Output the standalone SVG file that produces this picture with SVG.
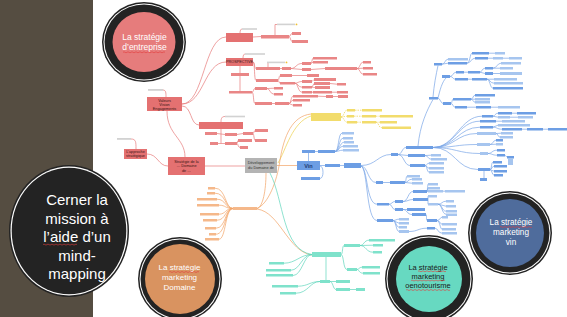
<svg xmlns="http://www.w3.org/2000/svg" width="567" height="317" viewBox="0 0 567 317">
<style>
.r{fill:#e98686}.rd{fill:#e47171}.y{fill:#f2dc6c}.b{fill:#6d9ee4}.bl{fill:#a6c5ef}.o{fill:#f5b88a}.t{fill:#7fe2cb}.lbl{fill:#d2d2d2}.gr{fill:#b4b4b4}
#connectors path{fill:none;stroke-width:.7}
.lr{stroke:#e67a7a}.ly{stroke:#ecd04c}.lyd{stroke:#ecd04c;stroke-dasharray:1.5 1}.lb{stroke:#79a5e6}.lo{stroke:#f2a466}.lt{stroke:#5fd6bb}
.tx{font-family:"Liberation Sans",Arial,sans-serif;fill:#fff;text-anchor:middle}
.nt{font-family:"Liberation Sans",Arial,sans-serif;fill:#3a1515;text-anchor:middle;font-size:3.8px}
.sq{fill:none;stroke:#e23a3a;stroke-width:.6}
.dk{fill:#232323}.wh{fill:#fff}
</style>
<rect x="0" y="0" width="567" height="317" fill="#fff"/>
<rect x="0" y="0" width="93" height="317" fill="#554d41"/>

<g id="connectors">
<!-- red -->
<path class="lr" d="M167,111 C167,135 185,138 185,157"/>
<path class="lr" d="M147,154 C158,154 158,166 168,166"/>
<path class="lr" d="M182,104 C204,104 204,37 226,37"/>
<path class="lr" d="M182,104 C204,104 204,62 226,62"/>
<path class="lr" d="M182,106 C192,106 190,125 199,125"/>
<path class="lr" d="M205,166 L245,166"/>
<path class="lr" d="M131,139 C136,139 136,142 136,149"/>
<path class="lr" d="M163,90 C166,90 166,93 166,97"/>
<path class="lr" d="M253,37 L261,36.5"/>
<path class="lr" d="M289,36.5 C290.5,36.5 290.5,33.5 292,33.5"/>
<path class="lr" d="M289,36.5 C290.5,36.5 290.5,41.5 292,41.5"/>
<path class="lr" d="M275,35 V24.5 H277"/>
<path class="lr" d="M240,33 C240,30 241,29 242,29"/>
<path class="lr" d="M243,58 C243,55 244,54 245,54"/>
<path class="lr" d="M240,66 V73 M240,76 V91"/>
<path class="lr" d="M253,62 C255,62 254,68.5 256,68.5"/>
<path class="lr" d="M253,62 C255,62 254,80.5 256,80.5"/>
<path class="lr" d="M268,67 V62.5"/>
<path class="lr" d="M280,68.5 L282,68.5"/>
<path class="lr" d="M291,68.5 C296,68.5 296,63.5 302,63.5"/>
<path class="lr" d="M291,68.5 L302,69.5"/>
<path class="lr" d="M311,63.5 C312,63.5 312,58.2 313,58.2"/>
<path class="lr" d="M311,63.5 L313,62.2"/>
<path class="lr" d="M311,69.5 L325,68.5"/>
<path class="lr" d="M357,68.5 C360,68.5 360,62.2 363,62.2"/>
<path class="lr" d="M357,68.5 L363,68.2"/>
<path class="lr" d="M357,68.5 C360,68.5 360,74.2 363,74.2"/>
<path class="lr" d="M278,80.5 C279,80.5 279,75.5 280,75.5"/>
<path class="lr" d="M278,80.5 C279,80.5 279,83.2 280,83.2"/>
<path class="lr" d="M292,75.5 L307,75.5"/>
<path class="lr" d="M295,83.2 C298,83.2 298,81.5 302,81.5"/>
<path class="lr" d="M295,83.2 C298,83.2 298,87.2 302,87.2"/>
<path class="lr" d="M295,83.2 C298,83.2 298,92.2 302,92.2"/>
<path class="lr" d="M312,81.5 L314,79.5"/>
<path class="lr" d="M312,87.2 L315,87.5 M312,87.2 L314,83.5"/>
<path class="lr" d="M312,92.2 L313,92.2"/>
<path class="lr" d="M330,83.5 L337,84.2 M332,92.2 L337,92.2 M333,96.5 L338,96.5"/>
<path class="lr" d="M252,92.2 C254,92.2 253,88.5 255,88.5"/>
<path class="lr" d="M252,92.2 C254,92.2 253,103.5 255,103.5"/>
<path class="lr" d="M267,88.5 L274,88.2 M267,88.5 C270,88.5 270,94.2 274,94.2"/>
<path class="lr" d="M272,103.5 L275,103.5"/>
<path class="lr" d="M289,103.5 C291,103.5 291,96.2 293,96.2"/>
<path class="lr" d="M289,103.5 C291,103.5 291,100.2 293,100.2"/>
<path class="lr" d="M289,103.5 L293,105.2"/>
<path class="lr" d="M318,96.2 L326,96.5"/>
<path class="lr" d="M221,129 V143.5"/>
<path class="lr" d="M217,133.5 L225,134.5 M237,134.5 L243,133.5"/>
<path class="lr" d="M253,133.5 C254,133.5 254,130.5 255,130.5 M253,133.5 C254,133.5 254,140.5 255,140.5"/>
<path class="lr" d="M218,143.5 L225,143.5 M237,143.5 C237.5,143.5 237.5,140.5 238,140.5 M237,143.5 C238,143.5 238,147.5 240,147.5"/>
<path class="lr" d="M221,122 C221,118 222,116.5 225,116.5"/>
<!-- yellow -->
<path class="ly" d="M278,163 C286,150 292,122 311,116"/>
<path class="lyd" d="M341,117 C344,117 344,110.2 347,110.2"/>
<path class="lyd" d="M341,117 L347,116.2"/>
<path class="lyd" d="M341,117 C344,117 344,122.2 347,122.2"/>
<path class="lyd" d="M355,110.2 L362,110.2 M354,116.2 L362,116.2 M376,116.2 L380,116.2 M357,122.2 L362,122.2 M376,122.2 L380,122.2"/>
<path class="lyd" d="M376,122.2 C379,122.2 378,127.7 382,127.7"/>
<!-- orange -->
<path class="lo" d="M311,114 C292,116 284,136 280,160 C277,182 268,204 257,208.5"/>
<path class="lo" d="M266,173 C266,190 263,207 257,208.5"/>
<path class="lo" d="M277,165.5 L297,165.5"/>
<path class="lo" d="M257,209 C280,212 288,252 312,255"/>
<path class="lo" d="M233,208.5 C225,208.5 226,188.2 215,188.2"/>
<path class="lo" d="M233,208.5 C225,208.5 226,193.2 215,193.2"/>
<path class="lo" d="M233,208.5 C225,208.5 226,199.2 217,199.2"/>
<path class="lo" d="M233,208.5 C225,208.5 226,205.2 219,205.2"/>
<path class="lo" d="M233,208.5 C225,208.5 226,214.2 219,214.2"/>
<path class="lo" d="M233,208.5 C225,208.5 226,220.2 217,220.2"/>
<path class="lo" d="M233,208.5 C225,208.5 226,228.2 216,228.2"/>
<path class="lo" d="M233,208.5 C225,208.5 226,234.2 216,234.2"/>
<path class="lo" d="M233,208.5 C225,208.5 226,239.2 219,239.2"/>
<!-- teal -->
<path class="lt" d="M270,173 C284,200 282,250 312,254.5"/>
<path class="lt" d="M341,254.5 C343,254.5 342,245.5 344,245.5"/>
<path class="lt" d="M341,254.5 C344,254.5 343,269.5 347,269.5"/>
<path class="lt" d="M360,245.5 C364,245.5 364,240.2 369,240.2 M360,245.5 L373,245.2 M360,245.5 C366,245.5 366,252.2 373,252.2"/>
<path class="lt" d="M357,269.5 C359,269.5 359,267.2 362,267.2 M357,269.5 C359,269.5 359,273.2 363,273.2"/>
<path class="lt" d="M312,254.5 C300,254.5 296,263.2 284,263.2"/>
<path class="lt" d="M312,254.5 C302,254.5 300,270.2 291,270.2"/>
<path class="lt" d="M312,254.5 C304,254.5 302,275.5 293,275.5"/>
<path class="lt" d="M326,257 V280"/>
<path class="lt" d="M320,281.5 C310,281.5 308,286.2 298,286.2 M320,281.5 C310,281.5 308,293.2 296,293.2"/>
<path class="lt" d="M330,281.5 L336,281.5 M330,281.5 C333,281.5 333,289.5 336,289.5 M350,289.5 L356,289.5"/>
<!-- blue -->
<path class="lb" d="M308.5,161 V153"/>
<path class="lb" d="M315,151.5 L318,151.5"/>
<path class="lb" d="M335,151.5 C339,151.5 338,133.2 342,133.2 M335,151.5 C339,151.5 339,138.2 343,138.2 M335,151.5 C339,151.5 340,142.2 344,142.2 M335,151.5 C339,151.5 339,146.2 343,146.2 M335,151.5 C339,151.5 339,150.2 343,150.2"/>
<path class="lb" d="M320,166 C324,166 324,178.5 320,178.5"/>
<path class="lb" d="M320,165.5 L325,165.5 M340,165.5 L344,165.5"/>
<path class="lb" d="M361,165.5 C376,165.5 378,154.5 391,154.5"/>
<path class="lb" d="M398,154.5 C402,154.5 402,147.5 406,147.5 M398,154.5 L408,155.5 M398,154.5 C404,154.5 404,165.5 410,165.5"/>
<path class="lb" d="M425,155.5 L431,155.2 M425,155.5 C428,155.5 428,159.2 431,159.2"/>
<path class="lb" d="M425,165.5 C427,165.5 427,163.2 429,163.2 M425,165.5 C427,165.5 427,168.2 429,168.2 M425,165.5 C427,165.5 427,172.2 429,172.2"/>
<path class="lb" d="M361,166 C368,166 368,182.5 376,182.5 M383,182.5 L390,182.5"/>
<path class="lb" d="M405,182.5 C406,182.5 406,176.2 407,176.2 M405,182.5 C408,182.5 408,179.2 412,179.2 M405,182.5 L412,183.2"/>
<path class="lb" d="M361,166 C368,168 366,204.2 377,204.2 M361,166 C368,168 366,220.5 377,220.5"/>
<path class="lb" d="M389,204.2 C392,204.2 392,201.5 395,201.5 M389,204.2 C392,204.2 392,209.5 395,209.5"/>
<path class="lb" d="M403,201.5 C408,201.5 408,191.5 413,191.5 M403,201.5 C408,201.5 408,199.5 413,199.5"/>
<path class="lb" d="M427,191.5 C427.5,191.5 427.5,184.2 428,184.2 M427,191.5 L428,188.2 M427,191.5 L428,191.2 M443,191.2 L445,191.2"/>
<path class="lb" d="M428,199.5 L428,196.2 M428,199.5 L428,204.2"/>
<path class="lb" d="M438,204.2 C442,204.2 442,201.2 446,201.2 M438,204.2 L446,206.2 M438,204.2 C442,204.2 442,211.2 446,211.2 M438,204.2 C442,204.2 442,214.2 446,214.2"/>
<path class="lb" d="M403,209.5 L407,209.5 M403,209.5 C407,209.5 407,214.5 412,214.5 M426,214.5 C427,214.5 426,220.5 427,220.5"/>
<path class="lb" d="M437,220.5 C440,220.5 440,217.2 442,217.2 M437,220.5 C440,220.5 440,224.2 442,224.2 M437,220.5 C440,220.5 440,229.2 442,229.2"/>
<path class="lb" d="M393,220.5 C396,220.5 396,219.2 399,219.2 M393,220.5 L399,223.2 M393,220.5 C396,220.5 396,227.2 399,227.2 M393,220.5 C396,220.5 396,231.5 399,231.5"/>
<path class="lb" d="M409,231.5 C418,231.5 418,228.2 427,228.2 M435,228.2 C438,228.2 438,233.2 442,233.2"/>
<path class="lb" d="M418,146 C420,125 427,110 433,99.5"/>
<path class="lb" d="M433,97 C434,85 436,75 438,65.5"/>
<path class="lb" d="M438,98 C440,90 442,82 446,78"/>
<path class="lb" d="M438,98.2 C440,98.2 441,103.5 443,103.5"/>
<path class="lb" d="M442,64.2 C445,64.2 445,59.2 448,59.2 M442,64.2 L448,63.2"/>
<path class="lb" d="M467,63.2 C470,63.2 470,53.2 472,53.2 M467,63.2 C471,63.2 471,58.2 475,58.2"/>
<path class="lb" d="M489,53.2 L495,53.2 M488,58.2 L493,58.2 M503,58.2 L509,58.2"/>
<path class="lb" d="M450,76.5 C453,76.5 453,72.2 456,72.2 M450,76.5 C453,76.5 453,79.2 455,79.2"/>
<path class="lb" d="M464,72.2 L468,72.2 M480,72.2 C482,72.2 482,68.2 485,68.2 M480,72.2 L485,73.5"/>
<path class="lb" d="M493,68.2 C497,68.2 497,63.2 501,63.2 M493,68.2 L500,68.2 M493,73.5 L500,73.5"/>
<path class="lb" d="M468,79.2 L472,79.2 M487,79.2 L494,79.2 M487,79.2 C490,79.2 490,83.2 494,83.2 M487,79.2 C490,79.2 490,88.2 493,88.2"/>
<path class="lb" d="M451,103.5 C452,103.5 452,99.2 453,99.2 M451,103.5 C453,103.5 453,107.2 455,107.2"/>
<path class="lb" d="M471,99.2 C473,99.2 473,95.2 475,95.2 M471,99.2 L475,99.2 M471,99.2 C473,99.2 473,102.2 475,102.2"/>
<path class="lb" d="M467,107.2 L476,107.2 M491,107.2 L498,107.2"/>
<path class="lb" d="M433,147.5 C455,147.5 460,116.2 482,116.2 M433,147.5 C455,147.5 458,121.2 480,121.2 M433,147.5 C455,147.5 458,127.2 480,127.2 M433,147.5 C455,147.5 456,133.5 477,133.5 M433,147.5 C455,147.5 456,144.5 477,144.5 M433,147.5 C455,147.5 458,153.5 480,153.5 M433,147.5 C455,147.5 456,169.5 478,169.5"/>
<path class="lb" d="M493,116.2 C495,116.2 495,113.2 498,113.2 M493,116.2 L498,117.2 M512,113.2 L517,113.2 M510,117.2 L518,117.2"/>
<path class="lb" d="M496,121.2 L502,121.2"/>
<path class="lb" d="M493,127.2 L498,125.2 M493,127.2 C497,127.2 497,129.2 502,129.2 M522,129.2 L527,129.2 M543,129.2 L548,129.2"/>
<path class="lb" d="M496,133.5 L501,133.2 M496,133.5 C498,133.5 498,137.2 500,137.2"/>
<path class="lb" d="M490,144.5 C493,144.5 493,140.2 496,140.2 M490,144.5 L496,144.2"/>
<path class="lb" d="M488,153.5 C492,153.5 492,150.2 497,150.2 M488,153.5 C492,153.5 492,155.2 497,155.2 M505,155.2 L507,157.2"/>
<path class="lb" d="M490,169.5 C492,169.5 491,162.2 493,162.2 M490,169.5 C492,169.5 492,166.2 494,166.2 M490,169.5 L494,171.2 M490,169.5 C492,169.5 492,175.2 494,175.2 M484,171 V178"/>
</g>

<!-- gray center -->
<g id="center"><rect class="gr" x="245" y="158" width="32" height="15"/>
<text class="nt" x="261" y="164" style="fill:#333">Développement</text>
<text class="nt" x="261" y="168.5" style="fill:#333">du Domaine de</text></g>

<!-- red main nodes -->
<g id="r_main"><rect class="rd" x="168" y="157" width="37" height="18"/>
<text class="nt" x="186.5" y="162.5">Stratégie de la</text>
<text class="nt" x="186.5" y="167">… Domaine</text>
<text class="nt" x="186.5" y="171.5">de …</text></g>
<g id="r_appr"><rect class="rd" x="124" y="149" width="23" height="10"/>
<text class="nt" x="135.5" y="153.3">L’approche</text>
<text class="nt" x="135.5" y="157.3">stratégique</text></g>
<g id="r_val"><rect class="rd" x="147" y="97" width="35" height="14"/>
<text class="nt" x="164.5" y="101.5">Valeurs</text>
<text class="nt" x="164.5" y="105.5">Vision</text>
<text class="nt" x="164.5" y="109.5">Engagements</text></g>
<g id="r_a"><rect class="rd" x="226" y="33" width="27" height="9"/></g>
<g id="r_p"><rect class="rd" x="226" y="58" width="27" height="8"/>
<text class="nt" x="239.5" y="63.3">PROSPECTIVE</text></g>
<g id="r_n2"><rect class="rd" x="199" y="122" width="44" height="7"/></g>
<g id="labels">
<rect class="lbl" x="117" y="138" width="14" height="1.8"/>
<rect class="lbl" x="148" y="89" width="15" height="1.8"/>
<rect class="lbl" x="242" y="28.2" width="15" height="1.6"/>
<rect class="lbl" x="245" y="53.2" width="20" height="1.6"/>
<rect class="lbl" x="277" y="23.6" width="18" height="1.6"/><circle cx="296.5" cy="24.4" r="0.9" fill="#f0c030"/>
<rect class="lbl" x="267" y="61.6" width="18" height="1.6"/><circle cx="286.5" cy="62.4" r="0.9" fill="#f0c030"/>
<rect class="lbl" x="225" y="115.7" width="20" height="1.6"/>
</g>
<g id="red_leaves">
<g id="rl1"><rect class="r" x="261" y="35" width="28" height="3.5"/></g>
<g id="rl2"><rect class="r" x="292" y="32" width="9" height="3"/></g>
<g id="rl3"><rect class="r" x="292" y="40" width="16" height="3"/></g>
<g id="rl4"><rect class="r" x="231" y="73" width="18" height="3"/></g>
<g id="rl5"><rect class="r" x="229" y="91" width="23" height="2.5"/></g>
<g id="rl6"><rect class="r" x="256" y="67" width="24" height="3"/></g>
<g id="rl7"><rect class="r" x="256" y="79" width="22" height="3"/></g>
<g id="rl8"><rect class="r" x="282" y="67" width="9" height="3"/></g>
<g id="rl9"><rect class="r" x="302" y="62" width="9" height="3"/></g>
<g id="rl10"><rect class="r" x="302" y="68" width="9" height="3"/></g>
<g id="rl11"><rect class="r" x="313" y="57" width="24" height="2.5"/></g>
<g id="rl12"><rect class="r" x="313" y="61" width="15" height="2.5"/></g>
<g id="rl13"><rect class="r" x="325" y="67" width="32" height="3"/></g>
<g id="rl14"><rect class="r" x="363" y="61" width="8" height="2.5"/></g>
<g id="rl15"><rect class="r" x="363" y="67" width="10" height="2.5"/></g>
<g id="rl16"><rect class="r" x="363" y="73" width="14" height="2.5"/></g>
<g id="rl17"><rect class="r" x="280" y="74" width="12" height="3"/></g>
<g id="rl18"><rect class="r" x="280" y="82" width="15" height="2.5"/></g>
<g id="rl19"><rect class="r" x="307" y="74" width="12" height="3"/></g>
<g id="rl20"><rect class="r" x="302" y="80" width="10" height="3"/></g>
<g id="rl21"><rect class="r" x="302" y="86" width="10" height="2.5"/></g>
<g id="rl22"><rect class="r" x="302" y="91" width="10" height="2.5"/></g>
<g id="rl23"><rect class="r" x="314" y="78" width="22" height="3"/></g>
<g id="rl24"><rect class="r" x="314" y="82" width="16" height="3"/></g>
<g id="rl25"><rect class="r" x="315" y="86" width="15" height="3"/></g>
<g id="rl26"><rect class="r" x="313" y="91" width="19" height="2.5"/></g>
<g id="rl27"><rect class="r" x="326" y="95" width="7" height="3"/></g>
<g id="rl28"><rect class="r" x="337" y="83" width="9" height="2.5"/></g>
<g id="rl29"><rect class="r" x="337" y="91" width="11" height="2.5"/></g>
<g id="rl30"><rect class="r" x="338" y="95" width="10" height="3"/></g>
<g id="rl31"><rect class="r" x="255" y="87" width="12" height="3"/></g>
<g id="rl32"><rect class="r" x="274" y="87" width="9" height="2.5"/></g>
<g id="rl33"><rect class="r" x="274" y="93" width="9" height="2.5"/></g>
<g id="rl34"><rect class="r" x="255" y="102" width="17" height="3"/></g>
<g id="rl35"><rect class="r" x="275" y="102" width="14" height="3"/></g>
<g id="rl36"><rect class="r" x="293" y="95" width="25" height="2.5"/></g>
<g id="rl37"><rect class="r" x="293" y="99" width="17" height="2.5"/></g>
<g id="rl38"><rect class="r" x="293" y="104" width="9" height="2.5"/></g>
<g id="rl39"><rect class="r" x="205" y="132" width="12" height="3"/></g>
<g id="rl40"><rect class="r" x="225" y="133" width="12" height="3"/></g>
<g id="rl41"><rect class="r" x="243" y="132" width="10" height="3"/></g>
<g id="rl42"><rect class="r" x="255" y="129" width="13" height="3"/></g>
<g id="rl43"><rect class="r" x="255" y="139" width="12" height="3"/></g>
<g id="rl44"><rect class="r" x="238" y="139" width="14" height="3"/></g>
<g id="rl45"><rect class="r" x="210" y="142" width="8" height="3"/></g>
<g id="rl46"><rect class="r" x="225" y="142" width="12" height="3"/></g>
<g id="rl47"><rect class="r" x="240" y="146" width="8" height="3"/></g>
</g>

<!-- yellow -->
<g id="y_main"><rect class="y" x="311" y="113" width="30" height="8"/></g>
<g id="yellow_leaves">
<g id="yl1"><rect class="y" x="347" y="109" width="8" height="2.5"/></g>
<g id="yl2"><rect class="y" x="362" y="109" width="20" height="2.5"/></g>
<g id="yl3"><rect class="y" x="347" y="115" width="7" height="2.5"/></g>
<g id="yl4"><rect class="y" x="362" y="115" width="14" height="2.5"/></g>
<g id="yl5"><rect class="y" x="380" y="115" width="33" height="2.5"/></g>
<g id="yl6"><rect class="y" x="347" y="121" width="10" height="2.5"/></g>
<g id="yl7"><rect class="y" x="362" y="121" width="14" height="2.5"/></g>
<g id="yl8"><rect class="y" x="380" y="121" width="17" height="2.5"/></g>
<g id="yl9"><rect class="y" x="382" y="126.5" width="29" height="2.5"/></g>
</g>

<!-- orange -->
<g id="o_main"><rect class="o" x="233" y="207" width="24" height="3"/></g>
<g id="orange_leaves">
<g id="ol1"><rect class="o" x="208" y="187" width="7" height="2.5"/></g>
<g id="ol2"><rect class="o" x="207" y="192" width="8" height="2.5"/></g>
<g id="ol3"><rect class="o" x="197" y="198" width="20" height="2.5"/></g>
<g id="ol4"><rect class="o" x="197" y="204" width="22" height="2.5"/></g>
<g id="ol5"><rect class="o" x="200" y="213" width="19" height="2.5"/></g>
<g id="ol6"><rect class="o" x="203" y="219" width="14" height="2.5"/></g>
<g id="ol7"><rect class="o" x="205" y="227" width="11" height="2.5"/></g>
<g id="ol8"><rect class="o" x="209" y="233" width="7" height="2.5"/></g>
<g id="ol9"><rect class="o" x="205" y="238" width="14" height="2.5"/></g>
</g>

<!-- teal -->
<g id="t_main"><rect class="t" x="312" y="252" width="29" height="5"/></g>
<g id="teal_nodes">
<g id="tl1"><rect class="t" x="344" y="244" width="16" height="3"/></g>
<g id="tl2"><rect class="t" x="369" y="239" width="26" height="2.5"/></g>
<g id="tl3"><rect class="t" x="373" y="244" width="10" height="2.5"/></g>
<g id="tl4"><rect class="t" x="373" y="251" width="9" height="2.5"/></g>
<g id="tl5"><rect class="t" x="347" y="268" width="10" height="3"/></g>
<g id="tl6"><rect class="t" x="362" y="266" width="18" height="2.5"/></g>
<g id="tl7"><rect class="t" x="363" y="272" width="17" height="2.5"/></g>
<g id="tl8"><rect class="t" x="269" y="262" width="15" height="2.5"/></g>
<g id="tl9"><rect class="t" x="266" y="269" width="25" height="2.5"/></g>
<g id="tl10"><rect class="t" x="266" y="274" width="27" height="2.5"/></g>
<g id="tl11"><rect class="t" x="320" y="280" width="10" height="3"/></g>
<g id="tl12"><rect class="t" x="272" y="285" width="26" height="2.5"/></g>
<g id="tl13"><rect class="t" x="280" y="292" width="16" height="2.5"/></g>
<g id="tl14"><rect class="t" x="336" y="280" width="14" height="3"/></g>
<g id="tl15"><rect class="t" x="336" y="288" width="14" height="3"/></g>
<g id="tl16"><rect class="t" x="356" y="288" width="9" height="3"/></g>
</g>

<!-- blue -->
<g id="vin"><rect class="b" x="297" y="161" width="23" height="9"/>
<text x="308.5" y="167.6" style="font-family:'Liberation Sans',Arial,sans-serif;font-size:5.5px;fill:#1d3b73;text-anchor:middle;font-weight:bold">Vin</text></g>
<g id="blue_nodes">
<g id="bn1"><rect class="b" x="302" y="150" width="13" height="3"/></g>
<g id="bn2"><rect class="b" x="318" y="150" width="17" height="3"/></g>
<g id="bn3"><rect class="bl" x="342" y="132" width="12" height="2.5"/></g>
<g id="bn4"><rect class="bl" x="343" y="137" width="10" height="2.5"/></g>
<g id="bn5"><rect class="bl" x="344" y="141" width="10" height="2.5"/></g>
<g id="bn6"><rect class="bl" x="343" y="145" width="15" height="2.5"/></g>
<g id="bn7"><rect class="bl" x="343" y="149" width="16" height="2.5"/></g>
<g id="bn8"><rect class="b" x="301" y="177" width="19" height="3"/></g>
<g id="bn9"><rect class="b" x="325" y="164" width="15" height="3"/></g>
<g id="bn10"><rect class="b" x="344" y="163" width="17" height="5"/></g>
<g id="bn11"><rect class="b" x="391" y="153" width="7" height="3"/></g>
<g id="bn12"><rect class="b" x="406" y="146" width="27" height="3"/></g>
<g id="bn13"><rect class="b" x="408" y="154" width="17" height="3"/></g>
<g id="bn14"><rect class="b" x="410" y="164" width="15" height="3"/></g>
<g id="bn15"><rect class="bl" x="431" y="154" width="10" height="2.5"/></g>
<g id="bn16"><rect class="bl" x="431" y="158" width="16" height="2.5"/></g>
<g id="bn17"><rect class="bl" x="429" y="162" width="15" height="2.5"/></g>
<g id="bn18"><rect class="bl" x="429" y="167" width="15" height="2.5"/></g>
<g id="bn19"><rect class="bl" x="429" y="171" width="15" height="2.5"/></g>
<g id="bn20"><rect class="b" x="376" y="181" width="7" height="3"/></g>
<g id="bn21"><rect class="b" x="390" y="181" width="15" height="3"/></g>
<g id="bn22"><rect class="bl" x="407" y="175" width="13" height="2.5"/></g>
<g id="bn23"><rect class="bl" x="412" y="178" width="10" height="2.5"/></g>
<g id="bn24"><rect class="bl" x="412" y="182" width="11" height="2.5"/></g>
<g id="bn25"><rect class="b" x="377" y="203" width="12" height="2.5"/></g>
<g id="bn26"><rect class="b" x="395" y="200" width="8" height="3"/></g>
<g id="bn27"><rect class="b" x="395" y="208" width="8" height="3"/></g>
<g id="bn28"><rect class="b" x="413" y="190" width="14" height="3"/></g>
<g id="bn29"><rect class="b" x="413" y="198" width="15" height="3"/></g>
<g id="bn30"><rect class="bl" x="428" y="183" width="10" height="2.5"/></g>
<g id="bn31"><rect class="bl" x="428" y="187" width="12" height="2.5"/></g>
<g id="bn32"><rect class="bl" x="428" y="190" width="15" height="2.5"/></g>
<g id="bn33"><rect class="bl" x="445" y="190" width="20" height="2.5"/></g>
<g id="bn34"><rect class="bl" x="428" y="195" width="9" height="2.5"/></g>
<g id="bn35"><rect class="bl" x="428" y="203" width="10" height="2.5"/></g>
<g id="bn36"><rect class="bl" x="446" y="200" width="8" height="2.5"/></g>
<g id="bn37"><rect class="bl" x="446" y="205" width="10" height="2.5"/></g>
<g id="bn38"><rect class="bl" x="446" y="210" width="11" height="2.5"/></g>
<g id="bn39"><rect class="bl" x="446" y="213.5" width="11" height="2.5"/></g>
<g id="bn40"><rect class="b" x="407" y="208" width="18" height="3"/></g>
<g id="bn41"><rect class="b" x="412" y="213" width="14" height="3"/></g>
<g id="bn42"><rect class="b" x="427" y="219" width="10" height="3"/></g>
<g id="bn43"><rect class="bl" x="442" y="216" width="6" height="2.5"/></g>
<g id="bn44"><rect class="bl" x="442" y="223" width="15" height="2.5"/></g>
<g id="bn45"><rect class="bl" x="442" y="228" width="14" height="2.5"/></g>
<g id="bn46"><rect class="b" x="377" y="219" width="16" height="3"/></g>
<g id="bn47"><rect class="bl" x="399" y="218" width="10" height="2.5"/></g>
<g id="bn48"><rect class="bl" x="399" y="222" width="10" height="2.5"/></g>
<g id="bn49"><rect class="bl" x="399" y="226" width="8" height="2.5"/></g>
<g id="bn50"><rect class="bl" x="399" y="230" width="10" height="3"/></g>
<g id="bn51"><rect class="b" x="427" y="227" width="8" height="2.5"/></g>
<g id="bn52"><rect class="bl" x="442" y="232" width="15" height="2.5"/></g>
<g id="bn53"><rect class="b" x="429" y="97" width="9" height="2.5"/></g>
<g id="bn54"><rect class="b" x="434" y="63" width="8" height="2.5"/></g>
<g id="bn55"><rect class="b" x="442" y="75" width="8" height="3"/></g>
<g id="bn56"><rect class="b" x="443" y="102" width="8" height="3"/></g>
<g id="bn57"><rect class="bl" x="448" y="58" width="20" height="2.5"/></g>
<g id="bn58"><rect class="b" x="448" y="62" width="19" height="2.5"/></g>
<g id="bn59"><rect class="b" x="472" y="52" width="17" height="2.5"/></g>
<g id="bn60"><rect class="bl" x="495" y="52" width="10" height="2.5"/></g>
<g id="bn61"><rect class="b" x="475" y="57" width="13" height="2.5"/></g>
<g id="bn62"><rect class="bl" x="493" y="57" width="10" height="2.5"/></g>
<g id="bn63"><rect class="bl" x="509" y="57" width="13" height="2.5"/></g>
<g id="bn64"><rect class="b" x="456" y="71" width="8" height="2.5"/></g>
<g id="bn65"><rect class="b" x="468" y="71" width="12" height="2.5"/></g>
<g id="bn66"><rect class="b" x="485" y="67" width="8" height="2.5"/></g>
<g id="bn67"><rect class="bl" x="501" y="62" width="20" height="2.5"/></g>
<g id="bn68"><rect class="bl" x="500" y="67" width="13" height="2.5"/></g>
<g id="bn69"><rect class="b" x="485" y="72" width="8" height="3"/></g>
<g id="bn70"><rect class="bl" x="500" y="72" width="22" height="3"/></g>
<g id="bn71"><rect class="b" x="455" y="78" width="13" height="2.5"/></g>
<g id="bn72"><rect class="b" x="472" y="78" width="15" height="2.5"/></g>
<g id="bn73"><rect class="bl" x="494" y="78" width="23" height="2.5"/></g>
<g id="bn74"><rect class="bl" x="494" y="82" width="29" height="2.5"/></g>
<g id="bn75"><rect class="b" x="493" y="87" width="30" height="2.5"/></g>
<g id="bn76"><rect class="b" x="453" y="98" width="18" height="2.5"/></g>
<g id="bn77"><rect class="b" x="475" y="94" width="20" height="2.5"/></g>
<g id="bn78"><rect class="bl" x="475" y="98" width="15" height="2.5"/></g>
<g id="bn79"><rect class="bl" x="475" y="101" width="15" height="2.5"/></g>
<g id="bn80"><rect class="b" x="455" y="106" width="12" height="2.5"/></g>
<g id="bn81"><rect class="b" x="476" y="106" width="15" height="2.5"/></g>
<g id="bn82"><rect class="bl" x="498" y="106" width="22" height="2.5"/></g>
<g id="bn83"><rect class="b" x="482" y="115" width="11" height="2.5"/></g>
<g id="bn84"><rect class="b" x="498" y="112" width="14" height="2.5"/></g>
<g id="bn85"><rect class="b" x="517" y="112" width="19" height="2.5"/></g>
<g id="bn86"><rect class="bl" x="498" y="116" width="12" height="2.5"/></g>
<g id="bn87"><rect class="bl" x="518" y="116" width="15" height="2.5"/></g>
<g id="bn88"><rect class="b" x="480" y="120" width="16" height="2.5"/></g>
<g id="bn89"><rect class="bl" x="502" y="120" width="23" height="2.5"/></g>
<g id="bn90"><rect class="b" x="480" y="126" width="13" height="2.5"/></g>
<g id="bn91"><rect class="bl" x="498" y="124" width="32" height="2.5"/></g>
<g id="bn92"><rect class="b" x="502" y="128" width="20" height="2.5"/></g>
<g id="bn93"><rect class="b" x="527" y="128" width="16" height="2.5"/></g>
<g id="bn94"><rect class="b" x="548" y="128" width="19" height="2.5"/></g>
<g id="bn95"><rect class="bl" x="477" y="132" width="19" height="3"/></g>
<g id="bn96"><rect class="bl" x="501" y="132" width="12" height="2.5"/></g>
<g id="bn97"><rect class="bl" x="500" y="136" width="13" height="2.5"/></g>
<g id="bn98"><rect class="bl" x="477" y="143" width="13" height="3"/></g>
<g id="bn99"><rect class="b" x="496" y="139" width="7" height="2.5"/></g>
<g id="bn100"><rect class="bl" x="496" y="143" width="7" height="2.5"/></g>
<g id="bn101"><rect class="bl" x="480" y="152" width="8" height="3"/></g>
<g id="bn102"><rect class="b" x="497" y="149" width="8" height="2.5"/></g>
<g id="bn103"><rect class="b" x="497" y="154" width="8" height="2.5"/></g>
<g id="bn104"><rect class="b" x="507" y="156" width="7" height="2.5"/></g>
<g id="bn105"><rect class="b" x="478" y="168" width="12" height="3"/></g>
<g id="bn106"><rect class="b" x="480" y="178" width="7" height="3"/></g>
<g id="bn107"><rect class="b" x="493" y="161" width="9" height="2.5"/></g>
<g id="bn108"><rect class="b" x="494" y="165" width="13" height="2.5"/></g>
<g id="bn109"><rect class="b" x="494" y="170" width="13" height="2.5"/></g>
<g id="bn110"><rect class="b" x="494" y="174" width="9" height="2.5"/></g>
<g id="bn111"><rect class="bl" x="508" y="158" width="5" height="7"/></g>
</g>

<!-- circles -->
<g id="c_entreprise">
<ellipse cx="144" cy="42" rx="42" ry="40" class="dk"/>
<ellipse cx="144" cy="42" rx="40.5" ry="38.5" class="wh"/>
<ellipse cx="144" cy="42" rx="39.5" ry="37.5" class="dk"/>
<ellipse cx="144" cy="42" rx="31.5" ry="30" fill="#e67c7c"/>
<text class="tx" x="144.5" y="40" font-size="8.5">La stratégie</text>
<text class="tx" x="144.5" y="50" font-size="8.5">d’entreprise</text>
<path class="sq" d="M123,52.3 q1,-1 2,0 t2,0 t2,0 t2,0 t2,0 t2,0 t2,0 t2,0 t2,0 t2,0 t2,0 t2,0 t2,0 t2,0 t2,0 t2,0 t2,0 t2,0 t2,0 t2,0 t2,0"/>
</g>
<g id="c_mission">
<ellipse cx="69" cy="231" rx="60" ry="66" class="dk"/>
<ellipse cx="69" cy="231" rx="58.5" ry="64.5" class="wh"/>
<ellipse cx="69" cy="231" rx="57.3" ry="63.3" class="dk"/>
<text class="tx" x="77" y="205" font-size="15">Cerner la</text>
<text class="tx" x="77" y="223.5" font-size="15">mission à</text>
<text class="tx" x="77" y="242" font-size="15">l’aide d’un</text>
<text class="tx" x="77" y="260.5" font-size="15">mind-</text>
<text class="tx" x="77" y="279" font-size="15">mapping</text>
<path class="sq" d="M43,244.6 q1,-1 2,0 t2,0 t2,0 t2,0 t2,0 t2,0 t2,0 t2,0 t2,0 t2,0 t2,0 t2,0 t2,0 t2,0 t2,0 t2,0 t2,0"/>
</g>
<g id="c_domaine">
<circle cx="180" cy="279" r="42" class="dk"/>
<circle cx="180" cy="279" r="40.5" class="wh"/>
<circle cx="180" cy="279" r="39.5" class="dk"/>
<circle cx="180" cy="279" r="35" fill="#d99360"/>
<text class="tx" x="179.5" y="270" font-size="8">La stratégie</text>
<text class="tx" x="179.5" y="280" font-size="8">marketing</text>
<text class="tx" x="179.5" y="290" font-size="8">Domaine</text>
<path class="sq" d="M169,272 q1,-1 2,0 t2,0 t2,0 t2,0 t2,0 t2,0 t2,0 t2,0 t2,0 t2,0 t2,0 t2,0 t2,0 t2,0 t2,0"/>
</g>
<g id="c_oeno">
<circle cx="429" cy="279" r="44" class="dk"/>
<circle cx="429" cy="279" r="42.5" class="wh"/>
<circle cx="429" cy="279" r="41.5" class="dk"/>
<circle cx="429" cy="279" r="33" fill="#67d9c1"/>
<text class="tx" x="428" y="269.5" font-size="7.5" style="fill:#1a1a1a">La stratégie</text>
<text class="tx" x="428" y="278.5" font-size="7.5" style="fill:#1a1a1a">marketing</text>
<text class="tx" x="428" y="288" font-size="7.5" style="fill:#1a1a1a">oenotourisme</text>
<path class="sq" d="M418,271.3 q1,-1 2,0 t2,0 t2,0 t2,0 t2,0 t2,0 t2,0 t2,0 t2,0 t2,0 t2,0 t2,0 t2,0 t2,0"/>
<path class="sq" d="M411,280.5 q1,-1 2,0 t2,0 t2,0 t2,0 t2,0 t2,0 t2,0 t2,0 t2,0 t2,0 t2,0 t2,0 t2,0 t2,0 t2,0 t2,0 t2,0"/>
<path class="sq" d="M406,290 q1,-1 2,0 t2,0 t2,0 t2,0 t2,0 t2,0 t2,0 t2,0 t2,0 t2,0 t2,0 t2,0 t2,0 t2,0 t2,0 t2,0 t2,0 t2,0 t2,0 t2,0 t2,0 t2,0"/>
</g>
<g id="c_vin">
<circle cx="510" cy="233" r="42" class="dk"/>
<circle cx="510" cy="233" r="40.5" class="wh"/>
<circle cx="510" cy="233" r="39.5" class="dk"/>
<circle cx="510" cy="233" r="34" fill="#4f6c9c"/>
<text class="tx" x="511" y="225" font-size="8.2">La stratégie</text>
<text class="tx" x="511" y="235" font-size="8.2">marketing</text>
<text class="tx" x="511" y="245" font-size="8.2">vin</text>
<path class="sq" d="M500,227 q1,-1 2,0 t2,0 t2,0 t2,0 t2,0 t2,0 t2,0 t2,0 t2,0 t2,0 t2,0 t2,0 t2,0 t2,0 t2,0 t2,0"/>
</g>
</svg>
